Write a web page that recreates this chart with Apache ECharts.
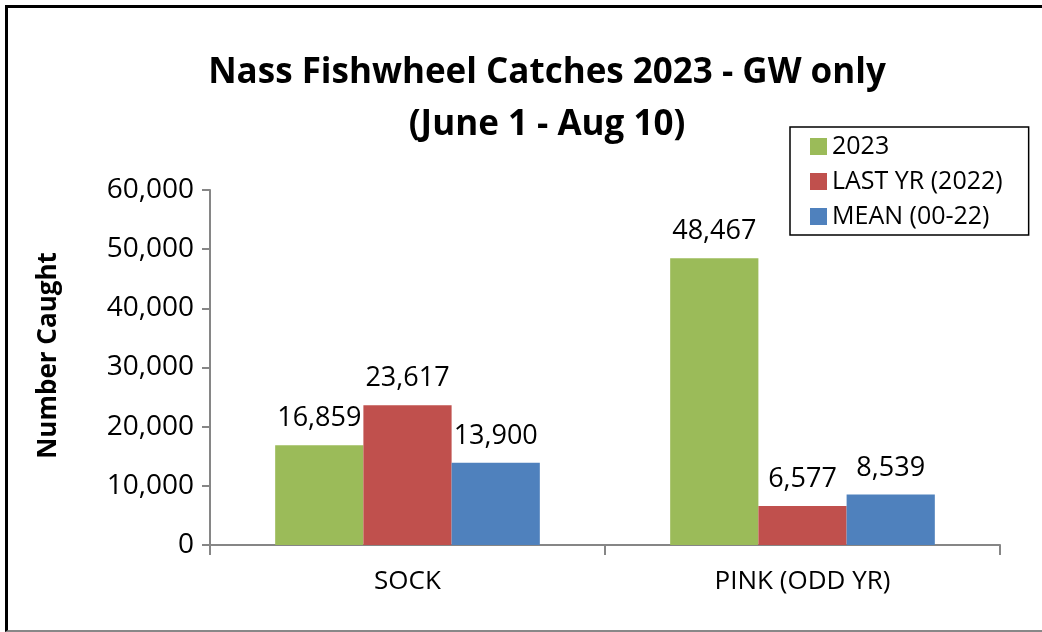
<!DOCTYPE html>
<html>
<head>
<meta charset="utf-8">
<script src="https://cdn.jsdelivr.net/npm/echarts@6/dist/echarts.min.js"></script>
<style>
  html, body { margin: 0; padding: 0; background: #fff; overflow: hidden; }
  #frame {
    position: absolute; left: 5px; top: 5px; width: 1050px; height: 622px;
    border-left: 3px solid #000; border-top: 3px solid #000; border-bottom: 2px solid #888;
  }
  #ec { position: absolute; left: 0; top: 0; width: 1042px; height: 632px; }
</style>
</head>
<body>
<div id="frame"></div>
<div id="ec"></div>
<script>
  const categories = ['SOCK', 'PINK (ODD YR)']
  const seriesNames = ['2023', 'LAST YR (2022)', 'MEAN (00-22)']
  const values2023 = [16859, 48467]
  const valuesLastYr = [23617, 6577]
  const valuesMean = [13900, 8539]
  const colors = ['#9BBB59', '#C0504D', '#4F81BD']

  const font = '"Open Sans", sans-serif'
  const ec = echarts.init(document.getElementById('ec'))

  const fmt = v => v.toLocaleString('en-US')

  const mkSeries = (name, data, color) => ({
    name: name,
    type: 'bar',
    data: data,
    barGap: '0%',
    barCategoryGap: '33%',
    itemStyle: { color: color },
    label: {
      show: true,
      position: 'top',
      distance: 13,
      color: '#000',
      fontSize: 27,
      fontFamily: font,
      formatter: p => fmt(p.value)
    }
  })

  ec.setOption({
    animation: false,
    title: {
      text: 'Nass Fishwheel Catches 2023 - GW only\n(June 1 - Aug 10)',
      left: 542,
      top: 42,
      textAlign: 'center',
      textStyle: {
        fontSize: 35,
        fontWeight: 'bold',
        fontFamily: font,
        color: '#000',
        lineHeight: 52
      }
    },
    legend: {
      orient: 'vertical',
      left: 790,
      top: 127,
      borderColor: '#000',
      borderWidth: 1.5,
      padding: [7, 26, 6, 20],
      itemWidth: 17,
      itemHeight: 17,
      itemGap: 10,
      icon: 'rect',
      data: seriesNames,
      textStyle: { fontSize: 25, fontFamily: font, color: '#000' }
    },
    grid: { left: 210, right: 42, top: 190, bottom: 87 },
    xAxis: {
      type: 'category',
      data: categories,
      axisLine: { lineStyle: { color: '#868686', width: 2 } },
      axisTick: { show: true, length: 10, lineStyle: { color: '#868686', width: 2 } },
      axisLabel: { fontSize: 26, fontFamily: font, color: '#000', margin: 24 }
    },
    yAxis: {
      type: 'value',
      min: 0,
      max: 60000,
      interval: 10000,
      name: 'Number Caught',
      nameLocation: 'middle',
      nameGap: 148,
      nameTextStyle: { fontSize: 26, fontWeight: 'bold', fontFamily: font, color: '#000', padding: [0, 0, 0, 24] },
      axisLine: { show: true, lineStyle: { color: '#868686', width: 2 } },
      axisTick: { show: true, length: 8, lineStyle: { color: '#868686', width: 2 } },
      splitLine: { show: false },
      axisLabel: {
        fontSize: 28, fontFamily: font, color: '#000', margin: 16,
        formatter: v => fmt(v)
      }
    },
    series: [
      mkSeries(seriesNames[0], values2023, colors[0]),
      mkSeries(seriesNames[1], valuesLastYr, colors[1]),
      mkSeries(seriesNames[2], valuesMean, colors[2])
    ]
  })
</script>
</body>
</html>
